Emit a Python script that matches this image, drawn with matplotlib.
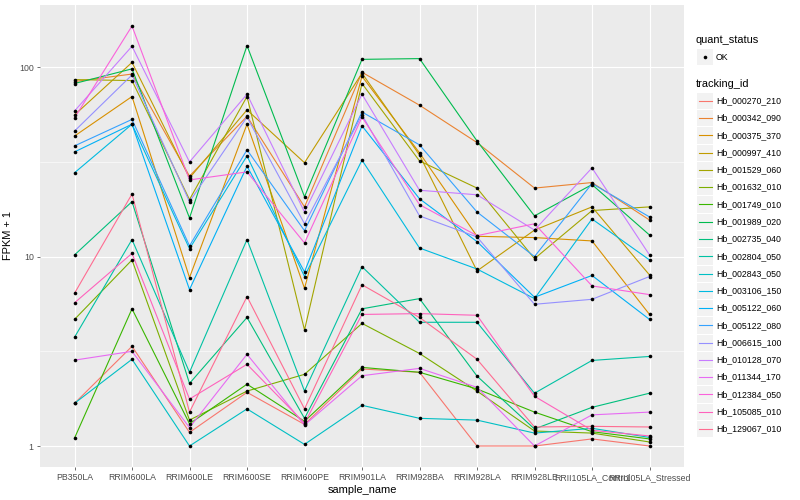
import numpy as np
import matplotlib.pyplot as plt
from matplotlib.patches import Rectangle

plt.rcParams['font.family'] = ['Liberation Sans', 'DejaVu Sans']

samples = ["PB350LA", "RRIM600LA", "RRIM600LE", "RRIM600SE", "RRIM600PE", "RRIM901LA",
           "RRIM928BA", "RRIM928LA", "RRIM928LE", "RRII105LA_Control", "RRII105LA_Stressed"]

tracking_id = ["Hb_000270_210", "Hb_000342_090", "Hb_000375_370", "Hb_000997_410",
               "Hb_001529_060", "Hb_001632_010", "Hb_001749_010", "Hb_001989_020",
               "Hb_002735_040", "Hb_002804_050", "Hb_002843_050", "Hb_003106_150",
               "Hb_005122_060", "Hb_005122_080", "Hb_006615_100", "Hb_010128_070",
               "Hb_011344_170", "Hb_012384_050", "Hb_105085_010", "Hb_129067_010"]

# FPKM + 1 per gene (rows follow tracking_id, columns follow samples)
fpkm1 = [
    [1.68, 3.36, 1.18, 1.92, 1.30, 2.55, 2.45, 1.00, 1.00, 1.09, 1.00],
    [84, 92, 26.6, 55, 18.3, 94, 63, 40, 23, 24.6, 15.6],
    [43.3, 70, 7.75, 50, 6.8, 89.5, 35.3, 12.8, 12.6, 12.1, 4.95],
    [55.9, 106, 26, 59.5, 31.3, 93, 34.4, 8.4, 13.8, 18.3, 8.0],
    [86, 85, 20, 70, 4.1, 82, 32, 23, 9.75, 17.5, 18.3],
    [4.66, 9.6, 1.37, 1.95, 2.39, 4.44, 3.08, 1.95, 1.20, 1.17, 1.05],
    [1.10, 5.3, 1.31, 2.12, 1.35, 2.60, 2.45, 2.00, 1.51, 1.19, 1.09],
    [82, 98, 16, 130, 20.7, 110, 111, 40.8, 16.4, 24, 13.0],
    [10.2, 19.5, 2.14, 4.77, 1.40, 5.3, 6.0, 2.34, 1.23, 1.60, 1.90],
    [3.75, 12.3, 2.45, 12.3, 1.95, 8.85, 4.5, 4.5, 1.9, 2.83, 2.97],
    [1.68, 2.87, 1.0, 1.57, 1.02, 1.64, 1.40, 1.37, 1.17, 1.24, 1.11],
    [27.7, 50, 11, 34, 7.85, 32.3, 11.1, 8.6, 6.0, 15.8, 9.6],
    [35.7, 50, 6.7, 30, 8.3, 49, 20.2, 12, 6.1, 7.95, 4.66],
    [38.4, 53, 11.4, 36.6, 13.7, 58, 38.9, 17.2, 10, 24.3, 16.2],
    [46, 91, 19.5, 54.5, 14.9, 56, 16.4, 12.7, 5.6, 5.95, 7.85],
    [58.7, 129, 31.6, 72, 17.2, 72, 22.4, 21.2, 13.8, 29.4, 10.2],
    [2.84, 3.16, 1.25, 3.05, 1.29, 2.35, 2.57, 2.04, 1.0, 1.46, 1.51],
    [54, 165, 25.4, 28, 11.8, 54.5, 18.8, 12.9, 14.9, 7.0, 6.3],
    [5.7, 10.4, 1.77, 2.7, 1.32, 4.95, 5.0, 4.9, 1.83, 1.21, 1.13],
    [6.4, 21.4, 1.51, 6.15, 1.57, 7.1, 4.77, 2.87, 1.26, 1.27, 1.26],
]

# ggplot hue palette for 20 groups
colors = ["#F8766D", "#EA8331", "#D89000", "#C09B00", "#A3A500", "#7CAE00", "#39B600",
          "#00BB4E", "#00BF7D", "#00C1A3", "#00BFC4", "#00BAE0", "#00B0F6", "#35A2FF",
          "#9590FF", "#C77CFF", "#E76BF3", "#FA62DB", "#FF62BC", "#FF6C91"]

fig = plt.figure(figsize=(8, 5), dpi=100)
ax = fig.add_axes([40/800, 1 - 467/500, 644/800, 462/500])
ax.set_facecolor("#EBEBEB")

x = np.arange(len(samples))
for vals, c in zip(fpkm1, colors):
    ax.plot(x, vals, color=c, lw=0.8, zorder=3)
for vals in fpkm1:
    ax.plot(x, vals, 'o', color='black', ms=2.6, mec='none', zorder=4)

ax.set_yscale('log')
allv = np.log10(np.array(fpkm1))
lo, hi = allv.min(), allv.max()
pad = (hi - lo) * 0.05
ax.set_ylim(10**(lo - pad), 10**(hi + pad))
ax.set_xlim(-0.6, len(samples) - 0.4)

ax.set_yticks([1, 10, 100])
ax.set_yticklabels(["1", "10", "100"])
ax.set_yticks([10**0.5, 10**1.5], minor=True)
ax.yaxis.set_minor_formatter(plt.NullFormatter())
ax.set_xticks(x)
ax.set_xticklabels(samples)

ax.grid(which='major', color='white', lw=0.8, zorder=0)
ax.grid(which='minor', axis='y', color='white', lw=0.4, zorder=0)
ax.set_axisbelow(True)
for s in ax.spines.values():
    s.set_visible(False)
ax.tick_params(which='major', length=2.5, width=0.5, color='#333333',
               labelsize=6.3, labelcolor='#4D4D4D', pad=2)
ax.tick_params(which='minor', length=0)

ax.set_xlabel("sample_name", fontsize=7.9, labelpad=2)
ax.set_ylabel("FPKM + 1", fontsize=7.9, labelpad=4)

# legends drawn in pixel coordinates
lg = fig.add_axes([0, 0, 1, 1], facecolor='none')
lg.set_xlim(0, 800)
lg.set_ylim(500, 0)
lg.axis('off')

lg.text(696, 40, "quant_status", fontsize=7.9, va='center', ha='left')
lg.add_patch(Rectangle((697, 49), 16, 16, facecolor='#F2F2F2', edgecolor='none'))
lg.plot([705], [57], 'o', color='black', ms=2.6, mec='none')
lg.text(716, 57, "OK", fontsize=6.3, va='center', ha='left')

lg.text(696, 84, "tracking_id", fontsize=7.9, va='center', ha='left')
step = 17.28
for i, (name, c) in enumerate(zip(tracking_id, colors)):
    yy = 100.7 + i * step
    lg.add_patch(Rectangle((697, yy - 8), 16, 16.3, facecolor='#F2F2F2', edgecolor='none'))
    lg.plot([699, 712], [yy, yy], color=c, lw=0.8)
    lg.text(716, yy, name, fontsize=6.3, va='center', ha='left')

fig.savefig("out.png", dpi=100)
